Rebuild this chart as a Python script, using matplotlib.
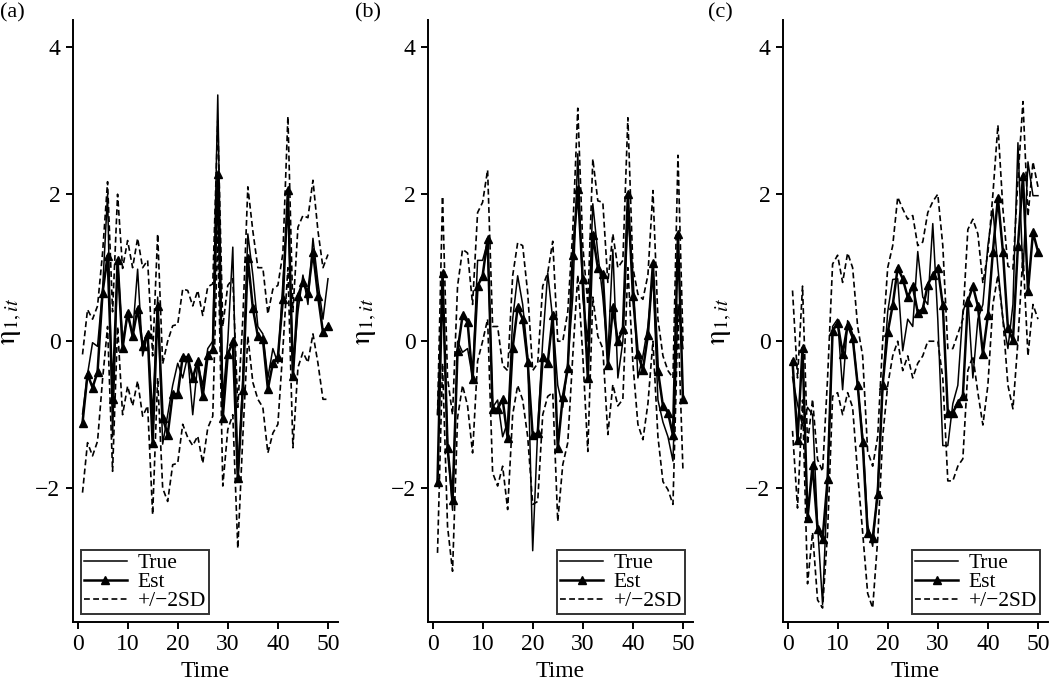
import numpy as np
import matplotlib.pyplot as plt

plt.rcParams['font.family'] = ['Liberation Serif', 'DejaVu Serif']
plt.rcParams['mathtext.fontset'] = 'stix'

time = list(range(1, 51))

# panel (a)
true_a = [-0.99, -0.45, -0.02, -0.07, 0.70, 2.00, -1.30, 1.10, 0.00, 0.35,
          0.10, 0.98, -0.20, 0.10, -1.00, 0.60, -1.40, -1.00, -0.60, -0.30,
          -0.50, -0.20, -1.00, -0.30, -0.60, -0.10, 0.00, 3.35, -0.80, 0.00,
          1.28, -1.90, -0.50, 1.46, 0.90, 0.20, 0.10, -0.50, -0.10, -0.30,
          0.80, 1.90, -0.40, 0.40, 0.90, 0.50, 1.40, 0.80, 0.30, 0.85]
est_a = [-1.11, -0.45, -0.63, -0.42, 0.66, 1.16, -0.79, 1.10, -0.09, 0.39,
         0.07, 0.44, -0.06, 0.10, -1.39, 0.48, -1.04, -1.27, -0.72, -0.72,
         -0.21, -0.22, -0.50, -0.27, -0.75, -0.19, -0.11, 2.28, -1.04, -0.18,
         0.00, -1.86, -0.66, 1.13, 0.45, 0.07, 0.03, -0.65, -0.30, -0.21,
         0.57, 2.06, -0.48, 0.62, 0.80, 0.66, 1.22, 0.62, 0.12, 0.21]
upper_a = [-0.18, 0.43, 0.30, 0.48, 1.20, 2.17, 0.40, 2.00, 0.99, 1.37,
           1.00, 1.40, 1.00, 1.10, -0.20, 1.46, -0.31, 0.00, 0.21, 0.23,
           0.71, 0.69, 0.48, 0.69, 0.35, 0.74, 0.78, 3.00, 0.20, 0.76,
           0.85, -0.90, 0.30, 2.10, 1.50, 1.00, 1.00, 0.37, 0.71, 0.76,
           1.20, 3.06, 0.40, 1.55, 1.71, 1.68, 2.19, 1.50, 1.00, 1.18]
lower_a = [-2.06, -1.38, -1.56, -1.36, -0.52, 0.20, -1.77, 0.20, -1.00, -0.61,
           -0.88, -0.54, -1.02, -0.88, -2.36, -0.50, -2.00, -2.18, -1.68, -1.66,
           -1.13, -1.31, -1.42, -1.29, -1.66, -1.18, -1.02, 1.50, -1.97, -1.20,
           -1.00, -2.82, -1.30, 0.07, -0.56, -0.79, -0.90, -1.52, -1.25, -1.13,
           -0.10, 1.00, -1.45, -0.36, -0.15, -0.29, 0.10, -0.30, -0.79, -0.79]

# panel (b)
true_b = [-1.00, 0.80, -1.40, -2.30, 0.00, -0.15, -0.10, -0.50, 1.10, 1.10,
          1.35, -0.90, -0.80, -1.30, -1.10, 0.30, 0.89, 0.50, -0.20, -2.85,
          -1.20, 0.00, 0.93, 0.30, -0.60, -0.90, -0.30, 0.60, 2.55, 0.60,
          0.00, 1.87, 1.20, 0.60, -0.20, 1.25, -0.50, 0.00, 1.70, 0.93,
          -0.50, -0.20, 0.20, 0.90, -0.80, -1.10, -1.30, -1.63, 0.50, -0.10]
est_b = [-1.91, 0.93, -1.45, -2.16, -0.13, 0.35, 0.26, -0.52, 0.75, 0.89,
         1.39, -0.92, -0.92, -0.79, -1.32, -0.09, 0.46, 0.30, -0.28, -1.28,
         -1.25, -0.22, -0.30, 0.35, -1.45, -0.76, -0.37, 1.17, 2.07, 0.85,
         -0.50, 1.45, 1.00, 0.91, -0.32, 0.46, 0.00, 0.16, 2.00, 0.62,
         -0.18, -0.39, 0.08, 1.06, -0.40, -0.88, -0.97, -1.28, 1.46, -0.79]
upper_b = [-1.00, 1.97, -0.50, -1.00, 0.75, 1.25, 1.20, 0.50, 1.75, 1.89,
           2.33, 0.20, 0.20, -0.33, -0.40, 0.89, 1.34, 1.30, 0.66, -0.40,
           -0.30, 0.75, 0.93, 1.36, 0.00, 0.00, 0.40, 1.50, 3.17, 1.30,
           0.50, 2.48, 1.91, 1.89, 0.80, 1.46, 1.00, 1.10, 3.04, 1.00,
           0.64, 0.57, 0.90, 2.05, 0.30, -0.20, -0.40, -0.50, 2.53, 0.00]
lower_b = [-2.88, -0.30, -2.52, -3.13, -1.04, -0.60, -0.88, -1.52, -0.27, 0.00,
           0.30, -1.79, -1.97, -1.70, -2.29, -1.00, -0.60, -0.80, -1.30, -2.22,
           -2.18, -1.00, -0.75, -0.70, -2.45, -1.68, -1.38, -0.20, 0.90, -0.20,
           -1.50, 0.60, 0.07, -0.10, -1.27, -0.59, -0.88, -0.79, 1.00, -0.30,
           -1.13, -1.34, -0.85, 0.00, -1.30, -1.91, -2.02, -2.22, 0.30, -1.77]

# panel (c)
true_c = [-0.49, -0.86, -1.15, -0.90, -1.00, -2.50, -3.58, -1.90, 0.20, 0.30,
          -0.66, 0.28, 0.10, -0.60, -1.30, -2.50, -2.79, -2.00, -0.60, 0.40,
          0.84, 0.85, -0.13, 0.30, 0.20, 1.22, 0.60, 0.50, 1.60, 0.30,
          -1.42, -1.42, -0.85, -0.60, 0.40, 0.60, -0.50, 0.30, 0.50, 1.30,
          1.80, 1.00, 0.30, -0.10, 0.50, 2.70, 0.90, 2.44, 1.98, 1.98]
est_c = [-0.27, -1.34, -0.09, -2.41, -1.68, -2.56, -2.69, -1.88, 0.14, 0.25,
         -0.17, 0.22, 0.05, -0.59, -1.37, -2.61, -2.68, -2.08, -0.59, 0.12,
         0.49, 1.00, 0.85, 0.60, 0.75, 0.39, 0.44, 0.77, 0.90, 1.00,
         0.49, -0.97, -0.97, -0.84, -0.75, 0.54, 0.75, 0.48, -0.17, 0.35,
         1.22, 1.95, 1.22, 0.18, 0.01, 1.30, 2.25, 0.68, 1.48, 1.22]
upper_c = [0.69, -0.50, 0.75, -1.40, -0.79, -1.61, -1.77, -0.50, 1.05, 1.17,
           0.80, 1.20, 1.00, 0.20, -0.20, -1.50, -1.70, -1.30, 0.00, 1.00,
           1.30, 1.96, 1.80, 1.66, 1.71, 1.30, 1.35, 1.75, 1.90, 2.00,
           1.30, -0.10, -0.10, 0.10, 0.30, 1.52, 1.66, 1.46, 0.79, 1.20,
           2.00, 2.94, 1.80, 1.02, 0.98, 2.20, 3.26, 1.70, 2.44, 2.10]
lower_c = [-1.22, -2.27, -0.80, -3.30, -2.60, -3.52, -3.63, -2.60, -0.75, -0.70,
           -1.00, -0.70, -0.90, -1.80, -2.60, -3.43, -3.63, -2.70, -1.30, -0.60,
           -0.20, 0.00, -0.40, -0.20, -0.50, -0.30, -0.20, 0.00, 0.00, 0.00,
           -0.50, -1.90, -1.90, -1.70, -1.60, -0.40, -0.20, -0.70, -1.14, -0.60,
           0.50, 0.90, 0.30, -0.60, -0.92, 0.00, 1.20, -0.20, 0.50, 0.30]

panels = [
    ('(a)', true_a, est_a, upper_a, lower_a, 'lower left'),
    ('(b)', true_b, est_b, upper_b, lower_b, 'lower right'),
    ('(c)', true_c, est_c, upper_c, lower_c, 'lower right'),
]
lefts = [73, 428, 783]
label_x = [0, 355, 708]

fig = plt.figure(figsize=(10.5, 6.82), dpi=100)

for i, (tag, tr, es, up, lo, loc) in enumerate(panels):
    ax = fig.add_axes([lefts[i] / 1050, 1 - 622 / 682, 265 / 1050, 602 / 682])
    ax.plot(time, tr, color='black', lw=1.1, label='True')
    ax.plot(time, es, color='black', lw=1.8, marker='^', ms=6, label='Est')
    ax.plot(time, up, color='black', lw=1.2, ls=(0, (3.5, 2)), label='+/\u22122SD')
    ax.plot(time, lo, color='black', lw=1.2, ls=(0, (3.5, 2)))

    ax.set_xlim(-0.9, 52)
    ax.set_ylim(-3.82, 4.37)
    ax.set_xticks([0, 10, 20, 30, 40, 50])
    ax.set_yticks([-2, 0, 2, 4])
    for s in ['top', 'right']:
        ax.spines[s].set_visible(False)
    for s in ['left', 'bottom']:
        ax.spines[s].set_linewidth(1.4)
    ax.tick_params(direction='out', length=5, width=1.4, labelsize=17, pad=4)
    ax.set_xlabel('Time', fontsize=17, labelpad=4)
    ax.set_ylabel(r'$\mathrm{\eta}_{1,it}$', fontsize=21)
    ax.yaxis.set_label_coords(-0.185, 0.5)

    leg = ax.legend(loc=loc, fontsize=15.5, frameon=True, fancybox=False,
                    edgecolor='black', handlelength=2.0, handletextpad=0.5,
                    borderpad=0.15, labelspacing=-0.05, borderaxespad=0.35)
    leg.get_frame().set_linewidth(1.4)

    fig.text(label_x[i] / 1050, 1 - 13 / 682, tag, fontsize=16, va='center')

fig.savefig('out.png', dpi=100)
